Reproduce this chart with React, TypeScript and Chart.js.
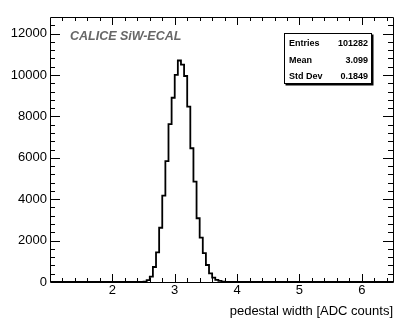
import React, { useEffect, useRef } from "react";
import { Chart, registerables } from "chart.js";

Chart.register(...registerables);

// Histogram: low edge of each 0.05-wide bin and its content
const binLowEdges = [
  2.45, 2.5, 2.55, 2.6, 2.65, 2.7, 2.75, 2.8, 2.85, 2.9, 2.95, 3.0, 3.05, 3.1,
  3.15, 3.2, 3.25, 3.3, 3.35, 3.4, 3.45, 3.5, 3.55, 3.6, 3.65, 3.7, 3.75, 3.8,
];
const binCounts = [
  5, 20, 90, 260, 725, 1430, 2620, 4170, 5840, 7630, 8900, 10000, 10700, 10500,
  9950, 8470, 6460, 4850, 3080, 2140, 1390, 820, 420, 210, 100, 50, 20, 5,
];
const lastBinHighEdge = 3.85;

const xMin = 1.0;
const xMax = 6.5;
const yMin = 0;
const yMax = 12800;

const xMajorTicks = [2, 3, 4, 5, 6];
const xMinorStep = 0.2;
const yMajorTicks = [0, 2000, 4000, 6000, 8000, 10000, 12000];
const yMinorStep = 400;

const xTitle = "pedestal width [ADC counts]";
const labelText = "CALICE SiW-ECAL";
const statsLabels = ["Entries", "Mean", "Std Dev"];
const statsValues = ["101282", "3.099", "0.1849"];

const FONT = '"Liberation Sans", Arial, Helvetica, sans-serif';

const framePlugin = {
  id: "rootFrame",
  afterDraw(chart: any) {
    const { ctx, chartArea, scales } = chart;
    const { left, right, top, bottom } = chartArea;
    const xs = scales.x;
    const ys = scales.y;
    ctx.save();
    ctx.strokeStyle = "#000";
    ctx.lineWidth = 1;
    // frame
    ctx.beginPath();
    ctx.rect(Math.round(left) + 0.5, Math.round(top) + 0.5, Math.round(right - left), Math.round(bottom - top));
    ctx.stroke();

    const xMaj = 8, xMin_ = 4, yMaj = 10, yMin_ = 5;
    ctx.beginPath();
    // x ticks (bottom and top, pointing inward)
    const xMinorVals: number[] = [];
    for (let v = xMin + xMinorStep; v < xMax - 1e-9; v += xMinorStep) xMinorVals.push(v);
    for (const v of xMinorVals) {
      const isMajor = xMajorTicks.some((m) => Math.abs(m - v) < 1e-6);
      const len = isMajor ? xMaj : xMin_;
      const px = Math.round(xs.getPixelForValue(v)) + 0.5;
      ctx.moveTo(px, bottom);
      ctx.lineTo(px, bottom - len);
      ctx.moveTo(px, top);
      ctx.lineTo(px, top + len);
    }
    // y ticks (left and right, pointing inward)
    for (let v = yMin + yMinorStep; v < yMax - 1e-9; v += yMinorStep) {
      const isMajor = yMajorTicks.some((m) => Math.abs(m - v) < 1e-6);
      const len = isMajor ? yMaj : yMin_;
      const py = Math.round(ys.getPixelForValue(v)) + 0.5;
      ctx.moveTo(left, py);
      ctx.lineTo(left + len, py);
      ctx.moveTo(right, py);
      ctx.lineTo(right - len, py);
    }
    ctx.stroke();

    // Experiment label
    ctx.fillStyle = "#666666";
    ctx.font = `italic bold 12.5px ${FONT}`;
    ctx.textAlign = "left";
    ctx.textBaseline = "alphabetic";
    ctx.fillText(labelText, 70, 40);

    // Stats box
    const bx = 284.5, by = 33.5, bw = 87, bh = 50;
    ctx.fillStyle = "#000";
    ctx.fillRect(bx + 1, by + 1, bw + 1, bh + 1);
    ctx.fillStyle = "#fff";
    ctx.fillRect(bx, by, bw, bh);
    ctx.strokeStyle = "#000";
    ctx.lineWidth = 1;
    ctx.strokeRect(bx, by, bw, bh);
    ctx.fillStyle = "#000";
    ctx.font = `bold 9px ${FONT}`;
    ctx.textBaseline = "middle";
    const rowY = [43.5, 60.5, 76.5];
    statsLabels.forEach((lab, i) => {
      ctx.textAlign = "left";
      ctx.fillText(lab, 289, rowY[i]);
      ctx.textAlign = "right";
      ctx.fillText(statsValues[i], 368, rowY[i]);
    });
    ctx.restore();
  },
};

export default function App() {
  const canvasRef = useRef<HTMLCanvasElement | null>(null);

  useEffect(() => {
    if (!canvasRef.current) return;
    Chart.defaults.font.family = FONT;
    const points: { x: number; y: number }[] = [{ x: xMin, y: 0 }];
    binLowEdges.forEach((e, i) => points.push({ x: e, y: binCounts[i] }));
    points.push({ x: lastBinHighEdge, y: 0 });
    points.push({ x: xMax, y: 0 });

    const chart = new Chart(canvasRef.current, {
      type: "line",
      data: {
        datasets: [
          {
            data: points,
            stepped: "before",
            borderColor: "#000",
            borderWidth: 1.8,
            pointRadius: 0,
            fill: false,
            tension: 0,
          },
        ],
      },
      options: {
        animation: false,
        responsive: false,
        maintainAspectRatio: false,
        layout: { padding: { top: 17, right: 22, left: 0, bottom: 0 } },
        plugins: { legend: { display: false }, tooltip: { enabled: false } },
        scales: {
          x: {
            type: "linear",
            min: xMin,
            max: xMax,
            grid: { display: false, drawTicks: false },
            border: { display: false },
            afterBuildTicks: (axis: any) => {
              axis.ticks = xMajorTicks.map((v) => ({ value: v }));
            },
            afterFit: (axis: any) => {
              axis.height = 54;
            },
            ticks: {
              autoSkip: false,
              maxRotation: 0,
              padding: 1,
              color: "#000",
              font: { size: 13 },
              callback: (v: any) => String(v),
            },
            title: {
              display: true,
              text: xTitle,
              align: "end",
              color: "#000",
              font: { size: 13 },
              padding: { top: 0, bottom: 16.5 },
            },
          },
          y: {
            type: "linear",
            min: yMin,
            max: yMax,
            grid: { display: false, drawTicks: false },
            border: { display: false },
            afterBuildTicks: (axis: any) => {
              axis.ticks = yMajorTicks.map((v) => ({ value: v }));
            },
            afterFit: (axis: any) => {
              axis.width = 50;
            },
            ticks: {
              autoSkip: false,
              padding: 3,
              color: "#000",
              font: { size: 13 },
              callback: (v: any) => String(v),
            },
          },
        },
      },
      plugins: [framePlugin],
    });
    return () => chart.destroy();
  }, []);

  return (
    <div style={{ position: "absolute", left: 0, top: 0, width: 415, height: 336, background: "#fff" }}>
      <canvas ref={canvasRef} width={415} height={336} style={{ display: "block" }} />
    </div>
  );
}
